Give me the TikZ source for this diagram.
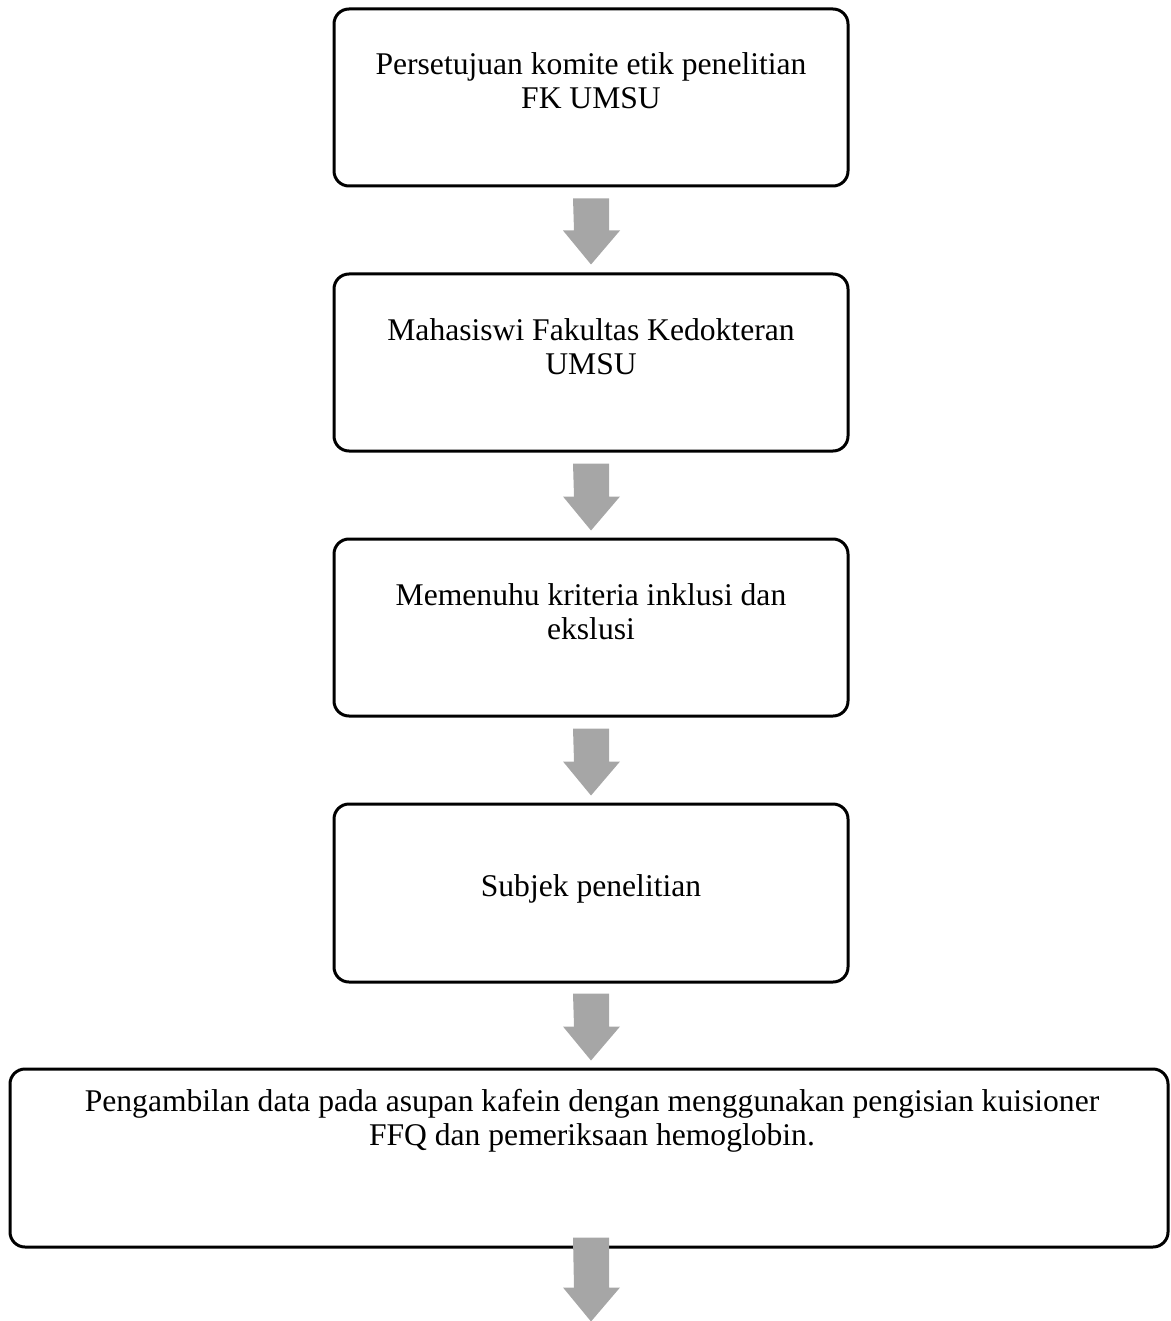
\documentclass[tikz,border=0pt]{standalone}
\usepackage{fontspec}
\setmainfont{Liberation Serif}
\usetikzlibrary{calc}
\definecolor{arrowgray}{HTML}{A6A6A6}
\tikzset{
  flowbox/.style={draw=black, line width=3pt, rounded corners=15pt, minimum width=514pt, minimum height=177pt, inner sep=0pt},
  widebox/.style={flowbox, minimum width=1158pt, minimum height=178pt},
  boxtext/.style={anchor=base, align=center, inner sep=0pt, font=\fontsize{31.6}{34}\selectfont},
  blockarrow/.style={fill=arrowgray, draw=none}
}
\newcommand{\flowarrow}[2]{%
  \fill[blockarrow] ($(#1)+(-18,0)$) -- ++(36,0) -- ++(0,#2) -- ++(11,0) -- ++(-29,34) -- ++(-28,-34) -- ++(11,0) -- cycle;}
\begin{document}
\begin{tikzpicture}[x=1pt, y=-1pt]
\useasboundingbox (0,0) rectangle (1170,1321);
\node[flowbox] (b1) at (591,97.5) {};
\node[flowbox] (b2) at (591,362.5) {};
\node[flowbox] (b3) at (591,627.5) {};
\node[flowbox, minimum height=178pt] (b4) at (591,893) {};
\node[widebox] (b5) at (589,1158) {};
\node[boxtext] (t1) at ($(b1.north)+(0,101)$) {Persetujuan komite etik penelitian\\FK UMSU};
\node[boxtext] (t2) at ($(b2.north)+(0,102)$) {Mahasiswi Fakultas Kedokteran\\UMSU};
\node[boxtext] (t3) at ($(b3.north)+(0,102)$) {Memenuhu kriteria inklusi dan\\ekslusi};
\node[boxtext] (t4) at ($(b4.north)+(0,94)$) {Subjek penelitian};
\node[boxtext] (t5) at ($(b5.north)+(3,78)$) {Pengambilan data pada asupan kafein dengan menggunakan pengisian kuisioner\\FFQ dan pemeriksaan hemoglobin.};
\coordinate (a1) at ($(b1.south)+(0,11)$);
\coordinate (a2) at ($(b2.south)+(0,11)$);
\coordinate (a3) at ($(b3.south)+(0,11)$);
\coordinate (a4) at ($(b4.south)+(0,10)$);
\coordinate (a5) at ($(b5.south)+(2,-11)$);
\flowarrow{a1}{32}
\flowarrow{a2}{33}
\flowarrow{a3}{33}
\flowarrow{a4}{33}
\flowarrow{a5}{50}
\end{tikzpicture}
\end{document}
